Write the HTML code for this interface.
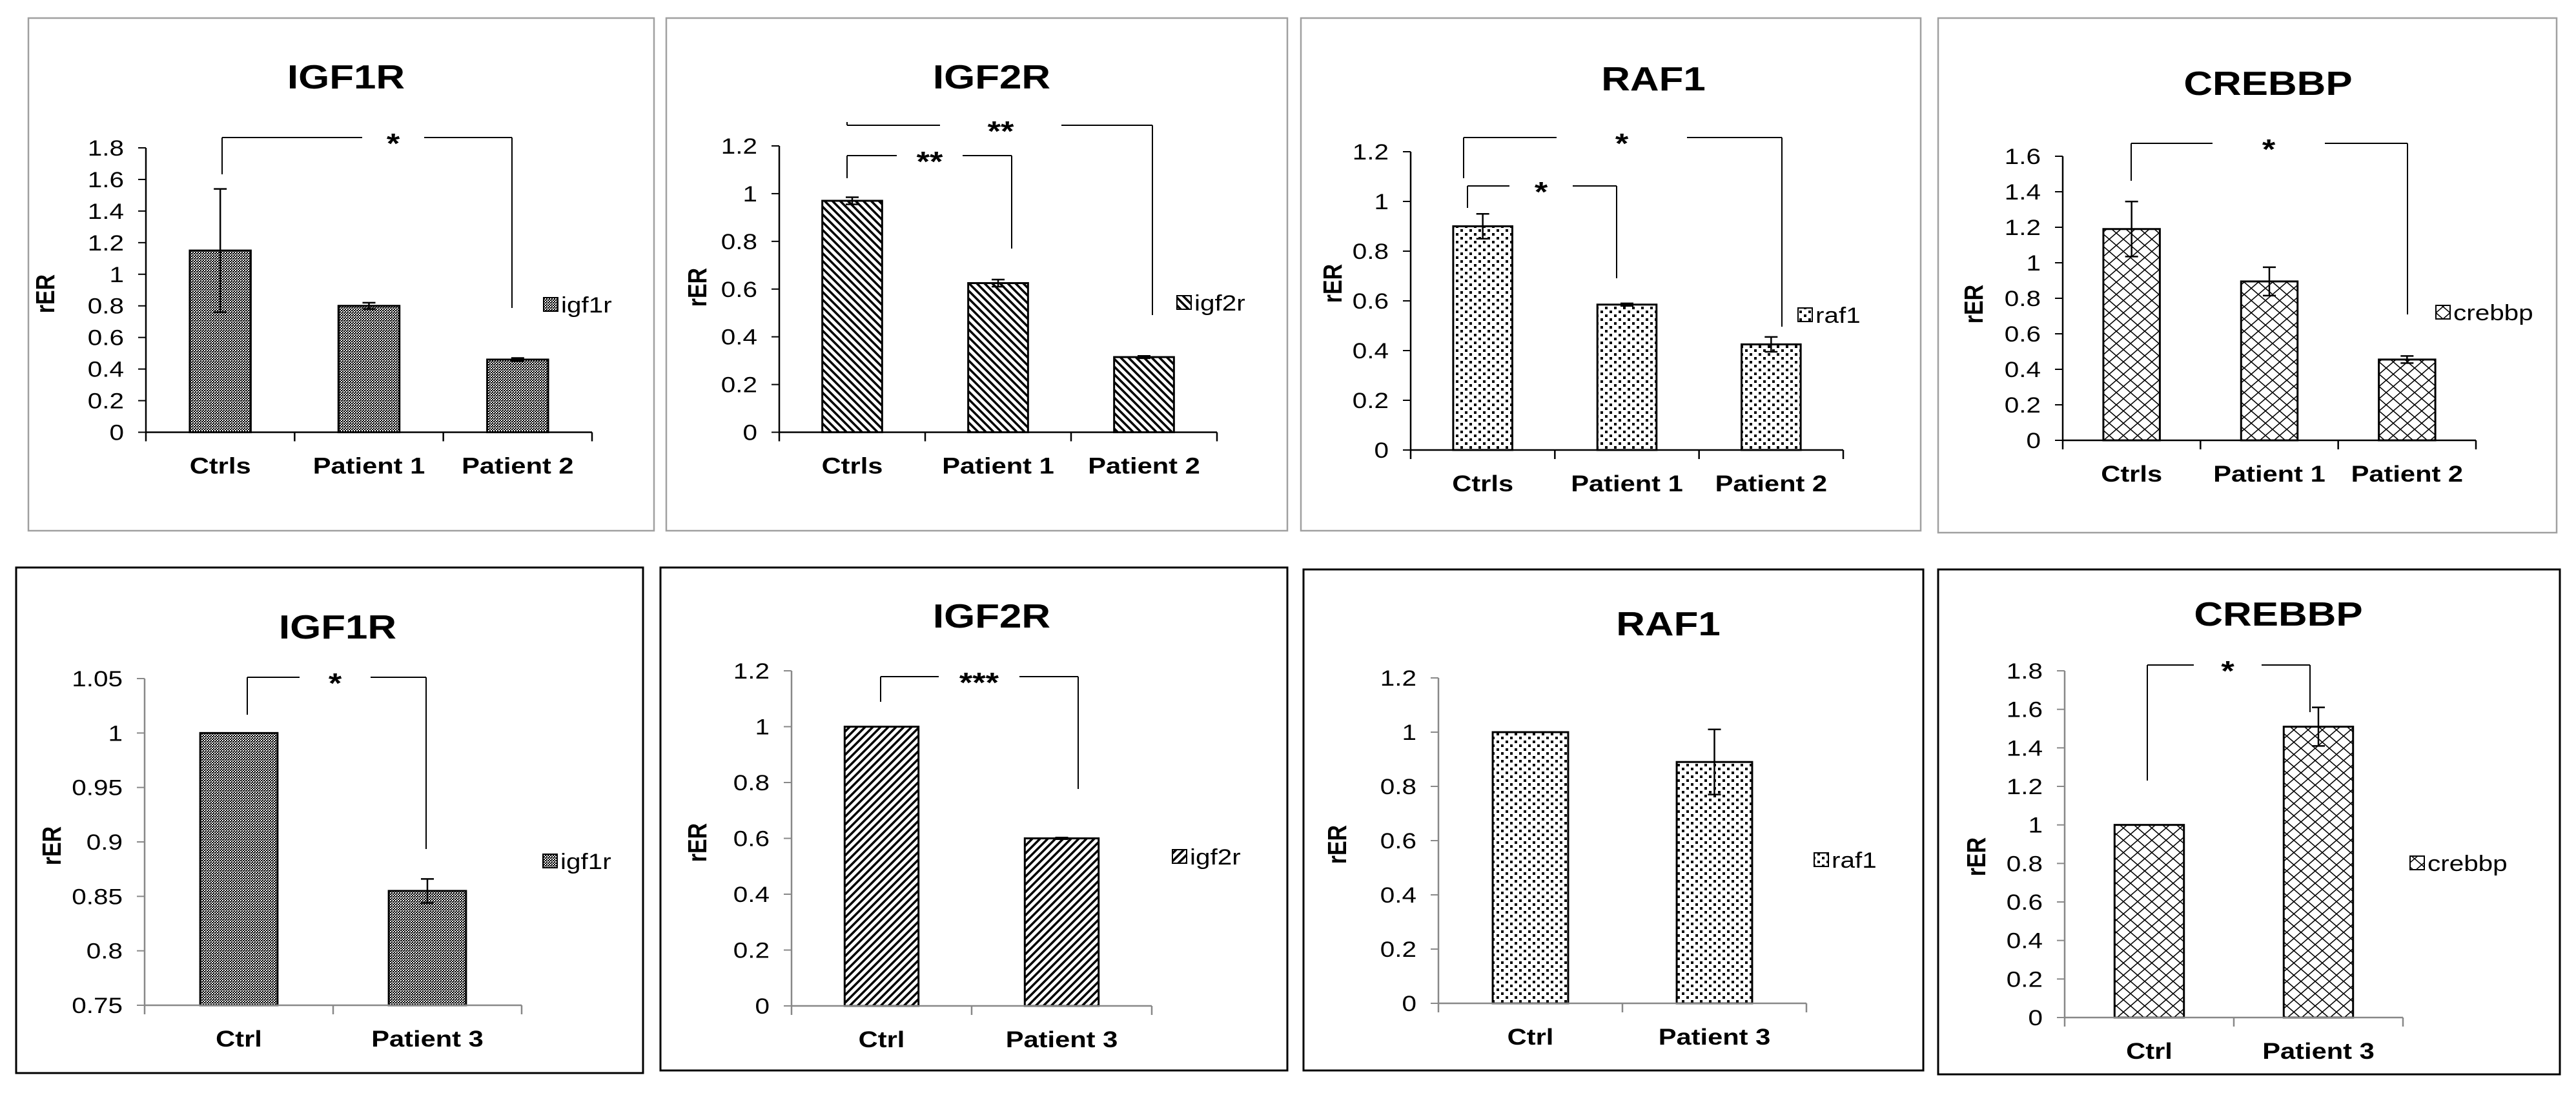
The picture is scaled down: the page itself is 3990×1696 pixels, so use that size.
<!DOCTYPE html>
<html><head><meta charset="utf-8"><style>
html,body{margin:0;padding:0;background:#fff;}
svg{display:block;font-family:"Liberation Sans",Arial,sans-serif;}
</style></head><body>
<svg id="fig" width="3990" height="1696" viewBox="0 0 3990 1696" xmlns="http://www.w3.org/2000/svg">
<defs>
<pattern id="pat-check" width="4" height="4" patternUnits="userSpaceOnUse"><rect width="4" height="4" fill="#fff"/><rect width="2" height="2" fill="#000"/><rect x="2" y="2" width="2" height="2" fill="#000"/><rect x="2" y="0" width="1" height="1" fill="#000"/></pattern>
<pattern id="pat-back" width="12" height="12" patternUnits="userSpaceOnUse"><rect width="12" height="12" fill="#fff"/><path d="M-6,0 L18,24 M-6,-12 L18,12 M-18,-12 L18,24" stroke="#000" stroke-width="3.5"/></pattern>
<pattern id="pat-fwd" width="12" height="12" patternUnits="userSpaceOnUse"><rect width="12" height="12" fill="#fff"/><path d="M-6,12 L18,-12 M-6,24 L18,0 M6,24 L30,0" stroke="#000" stroke-width="3.5"/></pattern>
<pattern id="pat-dots" width="14" height="12" patternUnits="userSpaceOnUse"><rect width="14" height="12" fill="#fff"/><rect x="1" y="1" width="4" height="4" fill="#000"/><rect x="8" y="7" width="4" height="4" fill="#000"/></pattern>
<pattern id="pat-cross" width="22" height="19" patternUnits="userSpaceOnUse"><rect width="22" height="19" fill="#fff"/><path d="M0,0 L22,19 M22,0 L0,19" stroke="#000" stroke-width="1.6"/></pattern>
</defs>
<g id="root"></g>
</svg>
<script>
// ---- data ----
const p1Categories = ["Ctrls","Patient 1","Patient 2"];
const p1Values = [1.15, 0.8, 0.46];
const p1Errors = [0.39, 0.02, 0.01];
const p1Ticks = ["0","0.2","0.4","0.6","0.8","1","1.2","1.4","1.6","1.8"];

const p2Categories = ["Ctrls","Patient 1","Patient 2"];
const p2Values = [0.97, 0.625, 0.315];
const p2Errors = [0.015, 0.015, 0.005];
const p2Ticks = ["0","0.2","0.4","0.6","0.8","1","1.2"];

const p3Categories = ["Ctrls","Patient 1","Patient 2"];
const p3Values = [0.9, 0.585, 0.425];
const p3Errors = [0.05, 0.005, 0.03];
const p3Ticks = ["0","0.2","0.4","0.6","0.8","1","1.2"];

const p4Categories = ["Ctrls","Patient 1","Patient 2"];
const p4Values = [1.19, 0.895, 0.455];
const p4Errors = [0.155, 0.08, 0.02];
const p4Ticks = ["0","0.2","0.4","0.6","0.8","1","1.2","1.4","1.6"];

const p5Categories = ["Ctrl","Patient 3"];
const p5Values = [1.0, 0.855];
const p5Errors = [0, 0.011];
const p5Ticks = ["0.75","0.8","0.85","0.9","0.95","1","1.05"];

const p6Categories = ["Ctrl","Patient 3"];
const p6Values = [1.0, 0.6];
const p6Errors = [0, 0.003];
const p6Ticks = ["0","0.2","0.4","0.6","0.8","1","1.2"];

const p7Categories = ["Ctrl","Patient 3"];
const p7Values = [1.0, 0.89];
const p7Errors = [0, 0.12];
const p7Ticks = ["0","0.2","0.4","0.6","0.8","1","1.2"];

const p8Categories = ["Ctrl","Patient 3"];
const p8Values = [1.0, 1.51];
const p8Errors = [0, 0.1];
const p8Ticks = ["0","0.2","0.4","0.6","0.8","1","1.2","1.4","1.6","1.8"];

// ---- layout ----
const panels = [
 {id:"igf1r-p12",title:"IGF1R",legend:"igf1r",pat:"pat-check",cats:p1Categories,vals:p1Values,errs:p1Errors,ticks:p1Ticks,
  box:[44,28,1013,822],border:"#a0a0a0",bw:2.5,axisCol:"#000",ax:226,axR:917,y0:669.5,yT:229,title_:[536,137],rer:[70,455],leg:[842,472],
  br:[[344,793,213,270,477,561,657,"*"]]},
 {id:"igf2r-p12",title:"IGF2R",legend:"igf2r",pat:"pat-back",cats:p2Categories,vals:p2Values,errs:p2Errors,ticks:p2Ticks,
  box:[1032,28,1994,822],border:"#a0a0a0",bw:2.5,axisCol:"#000",ax:1207,axR:1885,y0:669.5,yT:226,title_:[1536,137],rer:[1080,445],leg:[1823,469],
  br:[[1312,1785,194,189,488,1456,1644,"**"],[1312,1567,241,276,385,1389,1491,"**"]]},
 {id:"raf1-p12",title:"RAF1",legend:"raf1",pat:"pat-dots",cats:p3Categories,vals:p3Values,errs:p3Errors,ticks:p3Ticks,
  box:[2015,28,2975,822],border:"#a0a0a0",bw:2.5,axisCol:"#000",ax:2185,axR:2855,y0:697,yT:235,title_:[2561,140],rer:[2064,439],leg:[2785,488],
  br:[[2267,2760,213,276,506,2411,2613,"*"],[2273,2504,288,322,431,2338,2436,"*"]]},
 {id:"crebbp-p12",title:"CREBBP",legend:"crebbp",pat:"pat-cross",cats:p4Categories,vals:p4Values,errs:p4Errors,ticks:p4Ticks,
  box:[3002,28,3960,825],border:"#a0a0a0",bw:2.5,axisCol:"#000",ax:3195,axR:3835,y0:682,yT:242,title_:[3513,147],rer:[3057,471],leg:[3773,484],
  br:[[3301,3729,222,280,487,3427,3601,"*"]]},
 {id:"igf1r-p3",title:"IGF1R",legend:"igf1r",pat:"pat-check",cats:p5Categories,vals:p5Values,errs:p5Errors,ticks:p5Ticks,
  box:[25,879,996,1662],border:"#000",bw:3,axisCol:"#888",ax:224,axR:808,y0:1557,yT:1051,title_:[523,989],rer:[80,1310],leg:[841,1334],
  br:[[383,660,1049,1107,1315,464,574,"*"]]},
 {id:"igf2r-p3",title:"IGF2R",legend:"igf2r",pat:"pat-fwd",cats:p6Categories,vals:p6Values,errs:p6Errors,ticks:p6Ticks,
  box:[1023,879,1994,1658],border:"#000",bw:3,axisCol:"#888",ax:1226,axR:1784,y0:1558,yT:1039,title_:[1536,972],rer:[1080,1305],leg:[1816,1327],
  br:[[1364,1670,1048,1087,1222,1454,1579,"***"]]},
 {id:"raf1-p3",title:"RAF1",legend:"raf1",pat:"pat-dots",cats:p7Categories,vals:p7Values,errs:p7Errors,ticks:p7Ticks,
  box:[2019,882,2979,1658],border:"#000",bw:3,axisCol:"#888",ax:2228,axR:2798,y0:1554,yT:1050,title_:[2584,984],rer:[2071,1308],leg:[2810,1332],
  br:[]},
 {id:"crebbp-p3",title:"CREBBP",legend:"crebbp",pat:"pat-cross",cats:p8Categories,vals:p8Values,errs:p8Errors,ticks:p8Ticks,
  box:[3002,882,3965,1664],border:"#000",bw:3,axisCol:"#888",ax:3198,axR:3722,y0:1576,yT:1039,title_:[3529,969],rer:[3061,1327],leg:[3733,1337],
  br:[[3326,3578,1030,1209,1103,3398,3503,"*"]]}
];

const NS="http://www.w3.org/2000/svg";
const SX=1.19;
const root=document.getElementById("root");
function mk(tag,attrs,parent,text){const e=document.createElementNS(NS,tag);for(const k in attrs)e.setAttribute(k,attrs[k]);if(text!==undefined)e.textContent=text;parent.appendChild(e);return e;}
function txt(x,y,parent,text,attrs){const a=Object.assign({x:0,y:0,transform:"translate("+x+","+y+") scale("+SX+",1)",fill:"#000"},attrs);return mk("text",a,parent,text);}

panels.forEach(p=>{
  const g=mk("g",{},root);
  
  
  const [bx1,by1,bx2,by2]=p.box;
  const fr=mk("rect",{x:bx1,y:by1,width:bx2-bx1,height:by2-by1,fill:"#fff",stroke:p.border,"stroke-width":p.bw},g);
  
  
  const t=txt(p.title_[0],p.title_[1],g,p.title,{"text-anchor":"middle","font-size":52,"font-weight":"bold"});
  
  
  const vmin=parseFloat(p.ticks[0]), vmax=parseFloat(p.ticks[p.ticks.length-1]);
  const yS=v=>p.y0-(v-vmin)/(vmax-vmin)*(p.y0-p.yT);
  const n=p.cats.length, cw=(p.axR-p.ax)/n;
  const xC=i=>p.ax+cw*(i+0.5);
  p.ticks.forEach(tl=>{
    const y=yS(parseFloat(tl));
    mk("line",{x1:p.ax-12,x2:p.ax,y1:y,y2:y,stroke:p.axisCol,"stroke-width":2},g);
    const tx=txt(p.ax-34,y+12,g,tl,{"text-anchor":"end","font-size":34});
    
    
  });
  p.vals.forEach((v,i)=>{
    const bw=cw*0.41, x=xC(i)-bw/2, y=yS(v);
    const r=mk("rect",{x:x,y:y,width:bw,height:p.y0-y,fill:"url(#"+p.pat+")",stroke:"#000","stroke-width":3},g);
    
    
    const e=p.errs[i];
    if(e>0){
      const eg=mk("g",{stroke:"#000","stroke-width":2.5},g);
      
      
      const yt=yS(v+e), yb=yS(v-e), cx=xC(i);
      mk("line",{x1:cx,x2:cx,y1:yt,y2:yb},eg);
      mk("line",{x1:cx-10,x2:cx+10,y1:yt,y2:yt},eg);
      mk("line",{x1:cx-10,x2:cx+10,y1:yb,y2:yb},eg);
    }
    const cl=txt(xC(i),p.y0+64,g,p.cats[i],{"text-anchor":"middle","font-size":35,"font-weight":"bold"});
    
    
  });
  const ya=mk("line",{x1:p.ax,x2:p.ax,y1:p.yT,y2:p.y0,stroke:p.axisCol,"stroke-width":2.5},g);
  
  
  const xa=mk("line",{x1:p.ax,x2:p.axR,y1:p.y0,y2:p.y0,stroke:p.axisCol,"stroke-width":2.5},g);
  
  
  for(let i=0;i<=n;i++){const x=p.ax+cw*i;mk("line",{x1:x,x2:x,y1:p.y0,y2:p.y0+14,stroke:p.axisCol,"stroke-width":2.5},g);}
  const yt=mk("text",{x:0,y:0,transform:"translate("+(p.rer[0]+14)+","+p.rer[1]+") rotate(-90) scale(1,"+SX+")","text-anchor":"middle","font-size":34,"font-weight":"bold",fill:"#000"},g,"rER");
  
  
  const lg=mk("g",{},g);
  
  
  mk("rect",{x:p.leg[0],y:p.leg[1]-11,width:22,height:21,fill:"url(#"+p.pat+")",stroke:"#000","stroke-width":2},lg);
  txt(p.leg[0]+27,p.leg[1]+12,lg,p.legend,{"font-size":34});
  p.br.forEach(b=>{
    const [xl,xr,yl,dl,dr,gl,gr,s]=b;
    const bg=mk("g",{stroke:"#000","stroke-width":2,fill:"none"},g);
    
    
    mk("line",{x1:xl,x2:xl,y1:Math.min(yl,dl),y2:Math.max(yl,dl)},bg);
    mk("line",{x1:xl,x2:gl,y1:yl,y2:yl},bg);
    mk("line",{x1:gr,x2:xr,y1:yl,y2:yl},bg);
    mk("line",{x1:xr,x2:xr,y1:yl,y2:dr},bg);
    const st=txt((gl+gr)/2,yl+24,g,s,{"text-anchor":"middle","font-size":44,"font-weight":"bold",stroke:"none"});
    
    
  });
});
</script>
</body></html>
